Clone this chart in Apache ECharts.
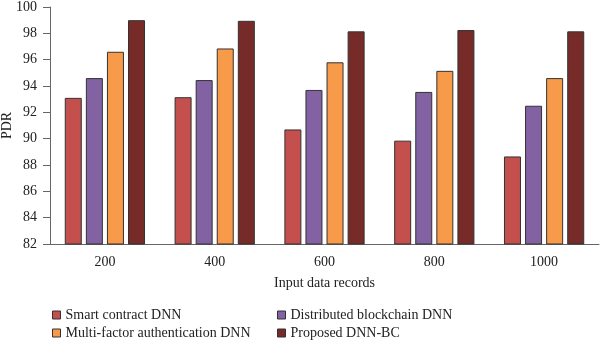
<!DOCTYPE html>
<html><head><meta charset="utf-8">
<script src="https://cdn.jsdelivr.net/npm/echarts@6/dist/echarts.min.js"></script>
<style>html,body{margin:0;padding:0;background:#fff}#c{width:600px;height:341px}</style>
</head><body><div id="c"></div>
<script>
const categories = ['200', '400', '600', '800', '1000'];
const seriesNames = ['Smart contract DNN', 'Distributed blockchain DNN', 'Multi-factor authentication DNN', 'Proposed DNN-BC'];
const smartContract = [93.1, 93.15, 90.7, 89.85, 88.65];
const distributedBlockchain = [94.6, 94.45, 93.7, 93.55, 92.5];
const multiFactor = [96.6, 96.85, 95.8, 95.15, 94.6];
const proposed = [99.0, 98.95, 98.15, 98.25, 98.15];
const colors = ['#c4504e', '#8262a3', '#f79a4a', '#772b29'];
const values = [smartContract, distributedBlockchain, multiFactor, proposed];
const font = '"Liberation Serif", "DejaVu Serif", serif';

const chart = echarts.init(document.getElementById('c'));
const legendBase = {
  orient: 'vertical', top: 308, itemWidth: 8, itemHeight: 8, itemGap: 4, padding: 0,
  icon: 'rect', itemStyle: { borderColor: '#333', borderWidth: 1 },
  textStyle: { fontFamily: font, fontSize: 14, color: '#222' }
};
chart.setOption({
  animation: false,
  textStyle: { fontFamily: font },
  grid: { left: 50, right: 1, top: 7, bottom: 97, containLabel: false, outerBoundsMode: 'none' },
  xAxis: {
    type: 'category', data: categories,
    name: 'Input data records', nameLocation: 'middle', nameGap: 32,
    nameTextStyle: { fontFamily: font, fontSize: 14, color: '#222' },
    axisLine: { lineStyle: { color: '#666', width: 1 } },
    axisTick: { alignWithLabel: true, length: 7, lineStyle: { color: '#666' } },
    axisLabel: { fontFamily: font, fontSize: 14, color: '#222', margin: 11 }
  },
  yAxis: {
    type: 'value', min: 82, max: 100, interval: 2,
    name: 'PDR', nameLocation: 'middle', nameGap: 36, nameMoveOverlap: false,
    nameTextStyle: { fontFamily: font, fontSize: 14, color: '#222' },
    splitLine: { show: false },
    axisLine: { show: true, lineStyle: { color: '#666', width: 1 } },
    axisTick: { show: true, length: 7, lineStyle: { color: '#666' } },
    axisLabel: { fontFamily: font, fontSize: 14, color: '#222', margin: 13 }
  },
  legend: [
    Object.assign({}, legendBase, { left: 52, data: [seriesNames[0], seriesNames[2]] }),
    Object.assign({}, legendBase, { left: 277, data: [seriesNames[1], seriesNames[3]] })
  ],
  series: seriesNames.map((n, i) => ({
    name: n, type: 'bar', data: values[i], barWidth: 17, barGap: '24%',
    itemStyle: { color: colors[i], borderColor: '#333', borderWidth: 1 }
  }))
});
</script></body></html>
